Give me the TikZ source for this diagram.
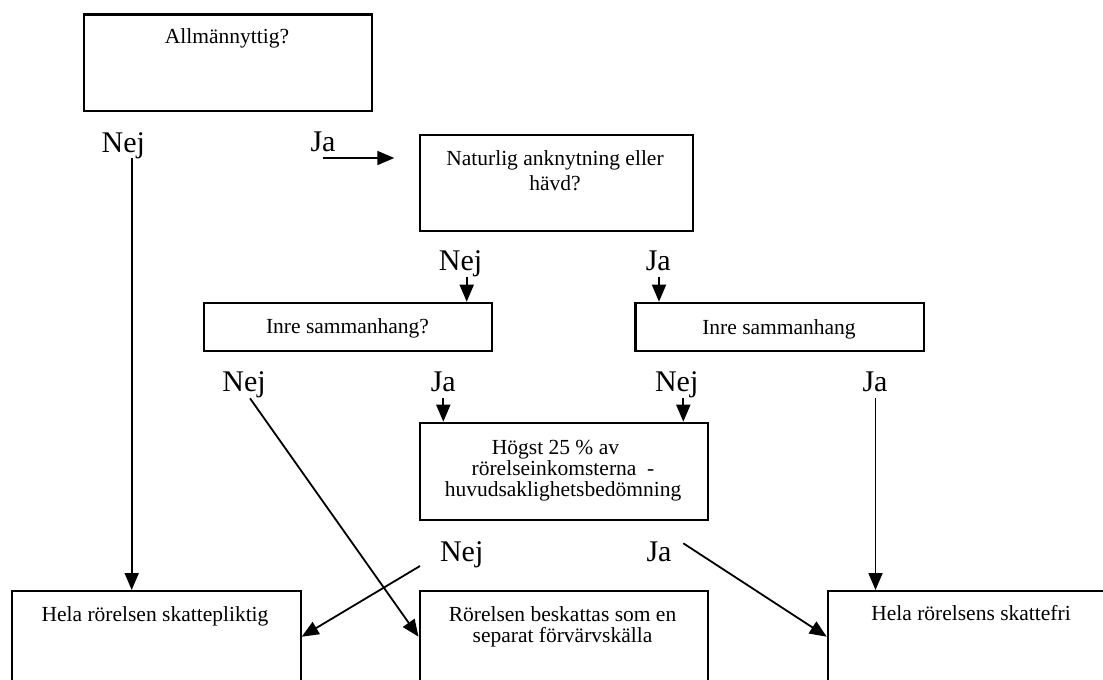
\documentclass[tikz,border=0pt]{standalone}
\usepackage{fontspec}
\setmainfont{Liberation Serif}
\usetikzlibrary{arrows.meta}
\begin{document}
\begin{tikzpicture}[x=1pt,y=-1pt,
  box/.style={draw, line width=2.2pt, inner sep=0pt, anchor=north west,
              minimum width=288.5pt},
  boxtext/.style={font=\fontsize{21.5}{21}\selectfont, anchor=north,
                  inner sep=0pt, align=center},
  answer/.style={font=\fontsize{30}{30}\selectfont, anchor=base, inner sep=0pt},
  link/.style={line width=1.8pt, -{Triangle[length=17pt,width=14pt]}},
]
\useasboundingbox (0,0) rectangle (1103,680);
\clip (0,0) rectangle (1103,680);

% question and outcome boxes
\node[box, minimum height=96.7pt] (allm) at (82.7,13.3) {};
\node[box, minimum width=273.5pt, minimum height=96pt] (natur) at (418.5,134) {};
\node[box, minimum height=48.3pt] (inreA) at (202.7,301.7) {};
\node[box, minimum height=48.3pt] (inreB) at (634.3,301.7) {};
\node[box, minimum height=97.3pt] (hogst) at (418.5,421.7) {};
\node[box, minimum height=110pt] (plikt) at (11,590) {};
\node[box, minimum height=110pt] (separat) at (418.5,590) {};
\node[box, minimum height=110pt] (fri) at (826.7,590) {};

% box texts
\node[boxtext] (allm-t) at (227,28) {Allmännyttig?};
\node[boxtext, font=\fontsize{21.5}{25}\selectfont] (natur-t) at (555,150.5)
  {Naturlig anknytning eller\\hävd?};
\node[boxtext] (inreA-t) at (347.5,318.5) {Inre sammanhang?};
\node[boxtext] (inreB-t) at (779,319.5) {Inre sammanhang};
\node[boxtext] (hogst-t) at (563,440)
  {Högst 25 \% av\hspace*{0.7em}\\rörelseinkomsterna\ \ -\\huvudsaklighetsbedömning};
\node[boxtext] (plikt-t) at (155,606) {Hela rörelsen skattepliktig};
\node[boxtext] (separat-t) at (562.5,606)
  {Rörelsen beskattas som en\\separat förvärvskälla};
\node[boxtext] (fri-t) at (971,605.5) {Hela rörelsens skattefri};

% answer labels
\node[answer] (nej1) at (123.3,152) {Nej};
\node[answer] (ja1) at (323,151) {Ja};
\node[answer] (nej2) at (460.5,270) {Nej};
\node[answer] (ja2) at (658.3,270) {Ja};
\node[answer] (nej3) at (244,391.5) {Nej};
\node[answer] (ja3) at (443.3,391.5) {Ja};
\node[answer] (nej4) at (676.7,391.5) {Nej};
\node[answer] (ja4) at (875,391.5) {Ja};
\node[answer] (nej5) at (461.7,561) {Nej};
\node[answer] (ja5) at (659,561) {Ja};

% connector start and end points
\coordinate (s1) at (131.7,158);
\coordinate (s2) at (322.7,158);
\coordinate (e2) at (394.3,158);
\coordinate (s3) at (466.7,276.7);
\coordinate (s4) at (659,276.7);
\coordinate (s5) at (443.3,398);
\coordinate (s6) at (683.3,398);
\coordinate (s7) at (875.5,398);
\coordinate (s8) at (250,398.3);
\coordinate (e8) at ([yshift=-46.7pt]separat.north west);
\coordinate (s9) at (420,566);
\coordinate (e9) at ([yshift=-46.7pt]plikt.north east);
\coordinate (s10) at (683.3,543.3);
\coordinate (e10) at ([yshift=-46.7pt]fri.north west);

% connectors
\draw[link] (s1) -- (s1 |- plikt.north);
\draw[link] (s2) -- (e2);
\draw[link] (s3) -- (s3 |- inreA.north);
\draw[link] (s4) -- (s4 |- inreB.north);
\draw[link] (s5) -- (s5 |- hogst.north);
\draw[link] (s6) -- (s6 |- hogst.north);
\draw[link] (s7) -- (s7 |- fri.north);
\draw[link] (s8) -- (e8);
\draw[link] (s9) -- (e9);
\draw[link] (s10) -- (e10);
\end{tikzpicture}
\end{document}
